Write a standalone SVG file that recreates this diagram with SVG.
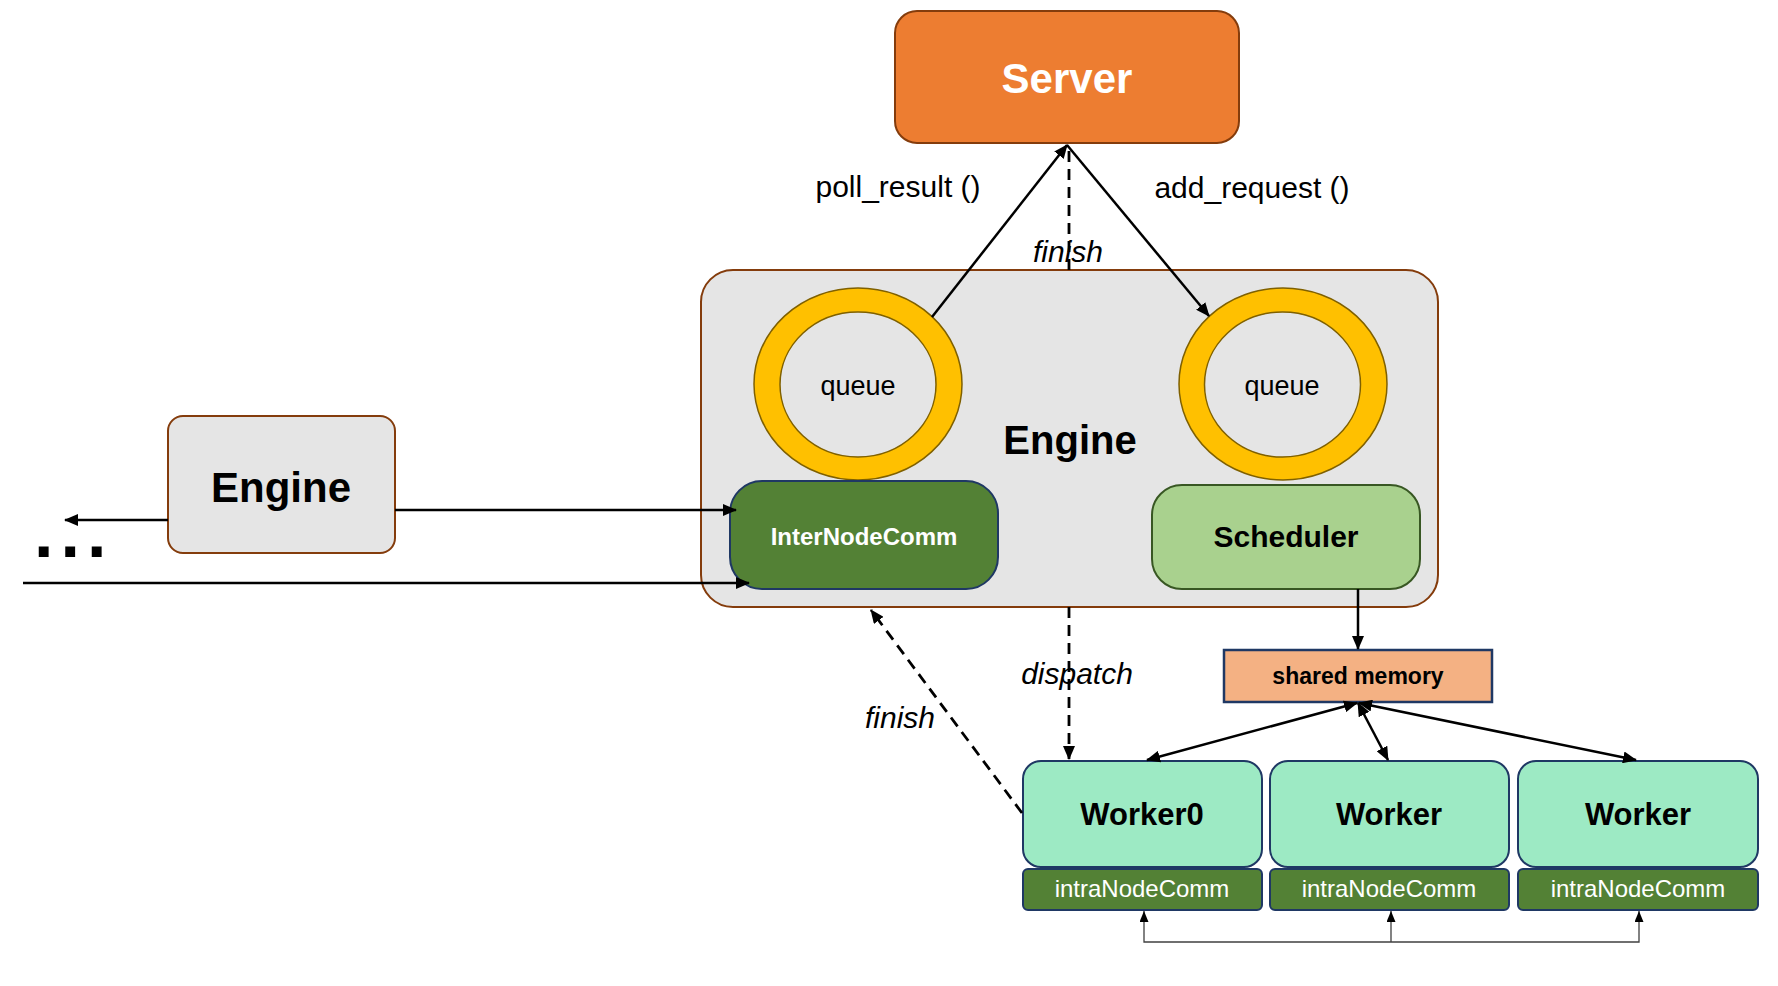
<svg xmlns="http://www.w3.org/2000/svg" width="1778" height="986" viewBox="0 0 1778 986">
<style>
text{font-family:"Liberation Sans",Arial,sans-serif}
.b{font-weight:bold}
.lbl{font-size:30px;fill:#000}
.it{font-style:italic;font-size:30px;fill:#000}
.ln{stroke:#000;stroke-width:2.5;fill:none}
.dash{stroke:#000;stroke-width:2.8;fill:none;stroke-dasharray:11 7}
.thin{stroke:#404040;stroke-width:1.3;fill:none}
.ring{fill:#FFC000;stroke:#7F6000;stroke-width:1.5}
.inner{fill:#E5E5E5;stroke:#7F6000;stroke-width:1.5}
.worker{fill:#9DEAC4;stroke:#1F3864;stroke-width:2}
.intra{fill:#538135;stroke:#1F3864;stroke-width:2}
</style>
<defs>
<marker id="ah" markerUnits="userSpaceOnUse" markerWidth="14" markerHeight="12" refX="13" refY="6" orient="auto-start-reverse">
<path d="M0,0 L14,6 L0,12 z" fill="#000"/>
</marker>
<marker id="ahs" markerUnits="userSpaceOnUse" markerWidth="11" markerHeight="9" refX="11" refY="4.5" orient="auto-start-reverse">
<path d="M0,0 L11,4.5 L0,9 z" fill="#000"/>
</marker>
</defs>

<g id="server">
<rect x="895" y="11" width="344" height="132" rx="22" fill="#ED7D31" stroke="#843C0C" stroke-width="2"/>
<text x="1067" y="93" text-anchor="middle" class="b" font-size="42" fill="#fff">Server</text>
</g>

<g id="engine-main">
<rect x="701" y="270" width="737" height="337" rx="32" fill="#E5E5E5" stroke="#843C0C" stroke-width="2"/>
<text x="1070" y="454" text-anchor="middle" class="b" font-size="40" fill="#000">Engine</text>
</g>

<g id="queue-left">
<ellipse cx="858" cy="384" rx="104" ry="96" class="ring"/>
<ellipse cx="858" cy="384.5" rx="78" ry="72.5" class="inner"/>
<text x="858" y="395" text-anchor="middle" font-size="27" fill="#000">queue</text>
</g>

<g id="queue-right">
<ellipse cx="1283" cy="384" rx="104" ry="96" class="ring"/>
<ellipse cx="1282.5" cy="384.5" rx="78" ry="72.5" class="inner"/>
<text x="1282" y="395" text-anchor="middle" font-size="27" fill="#000">queue</text>
</g>

<g id="internodecomm">
<rect x="730" y="481" width="268" height="108" rx="32" fill="#538135" stroke="#1F3864" stroke-width="2"/>
<text x="864" y="545" text-anchor="middle" class="b" font-size="24" fill="#fff">InterNodeComm</text>
</g>

<g id="scheduler">
<rect x="1152" y="485" width="268" height="104" rx="30" fill="#A9D18E" stroke="#385723" stroke-width="2"/>
<text x="1286" y="547" text-anchor="middle" class="b" font-size="30" fill="#000">Scheduler</text>
</g>

<g id="engine-small">
<rect x="168" y="416" width="227" height="137" rx="15" fill="#E5E5E5" stroke="#843C0C" stroke-width="2"/>
<text x="281" y="502" text-anchor="middle" class="b" font-size="42" fill="#000">Engine</text>
</g>

<g id="ellipsis">
<text x="34" y="557" class="b" font-size="70" letter-spacing="7" fill="#000">...</text>
</g>

<g id="shared-memory">
<rect x="1224" y="650" width="268" height="52" fill="#F4B183" stroke="#1F3864" stroke-width="2.5"/>
<text x="1358" y="684" text-anchor="middle" class="b" font-size="23" fill="#000">shared memory</text>
</g>

<g id="worker0">
<rect x="1023" y="761" width="239" height="106" rx="18" class="worker"/>
<text x="1142" y="825" text-anchor="middle" class="b" font-size="31" fill="#000">Worker0</text>
<rect x="1023" y="869" width="239" height="41" rx="5" class="intra"/>
<text x="1142" y="897" text-anchor="middle" font-size="24" fill="#fff">intraNodeComm</text>
</g>

<g id="worker1">
<rect x="1270" y="761" width="239" height="106" rx="18" class="worker"/>
<text x="1389" y="825" text-anchor="middle" class="b" font-size="31" fill="#000">Worker</text>
<rect x="1270" y="869" width="239" height="41" rx="5" class="intra"/>
<text x="1389" y="897" text-anchor="middle" font-size="24" fill="#fff">intraNodeComm</text>
</g>

<g id="worker2">
<rect x="1518" y="761" width="240" height="106" rx="18" class="worker"/>
<text x="1638" y="825" text-anchor="middle" class="b" font-size="31" fill="#000">Worker</text>
<rect x="1518" y="869" width="240" height="41" rx="5" class="intra"/>
<text x="1638" y="897" text-anchor="middle" font-size="24" fill="#fff">intraNodeComm</text>
</g>

<g id="connectors">
<line x1="932" y1="317" x2="1067" y2="145" class="ln" marker-end="url(#ah)"/>
<line x1="1067" y1="145" x2="1209" y2="316" class="ln" marker-end="url(#ah)"/>
<line x1="1069" y1="270" x2="1069" y2="147" class="dash"/>
<line x1="395" y1="510" x2="736" y2="510" class="ln" marker-end="url(#ah)"/>
<line x1="23" y1="583" x2="749" y2="583" class="ln" marker-end="url(#ah)"/>
<line x1="168" y1="520" x2="65" y2="520" class="ln" marker-end="url(#ah)"/>
<line x1="1358" y1="589" x2="1358" y2="649" class="ln" marker-end="url(#ah)"/>
<line x1="1069" y1="607" x2="1069" y2="759" class="dash" marker-end="url(#ah)"/>
<line x1="1022" y1="813" x2="871" y2="610" class="dash" marker-end="url(#ah)"/>
<line x1="1357" y1="703" x2="1147" y2="760" class="ln" stroke-width="2" marker-start="url(#ah)" marker-end="url(#ah)"/>
<line x1="1358" y1="703" x2="1388" y2="760" class="ln" stroke-width="2" marker-start="url(#ah)" marker-end="url(#ah)"/>
<line x1="1359" y1="703" x2="1636" y2="760" class="ln" stroke-width="2" marker-start="url(#ah)" marker-end="url(#ah)"/>
<polyline points="1144,911 1144,942 1639,942 1639,911" class="thin" marker-start="url(#ahs)" marker-end="url(#ahs)"/>
<line x1="1391" y1="942" x2="1391" y2="911" class="thin" marker-end="url(#ahs)"/>
<text x="898" y="197" text-anchor="middle" class="lbl">poll_result ()</text>
<text x="1252" y="198" text-anchor="middle" class="lbl">add_request ()</text>
<text x="1068" y="262" text-anchor="middle" class="it">finish</text>
<text x="1077" y="684" text-anchor="middle" class="it">dispatch</text>
<text x="900" y="728" text-anchor="middle" class="it">finish</text>
</g>
</svg>
